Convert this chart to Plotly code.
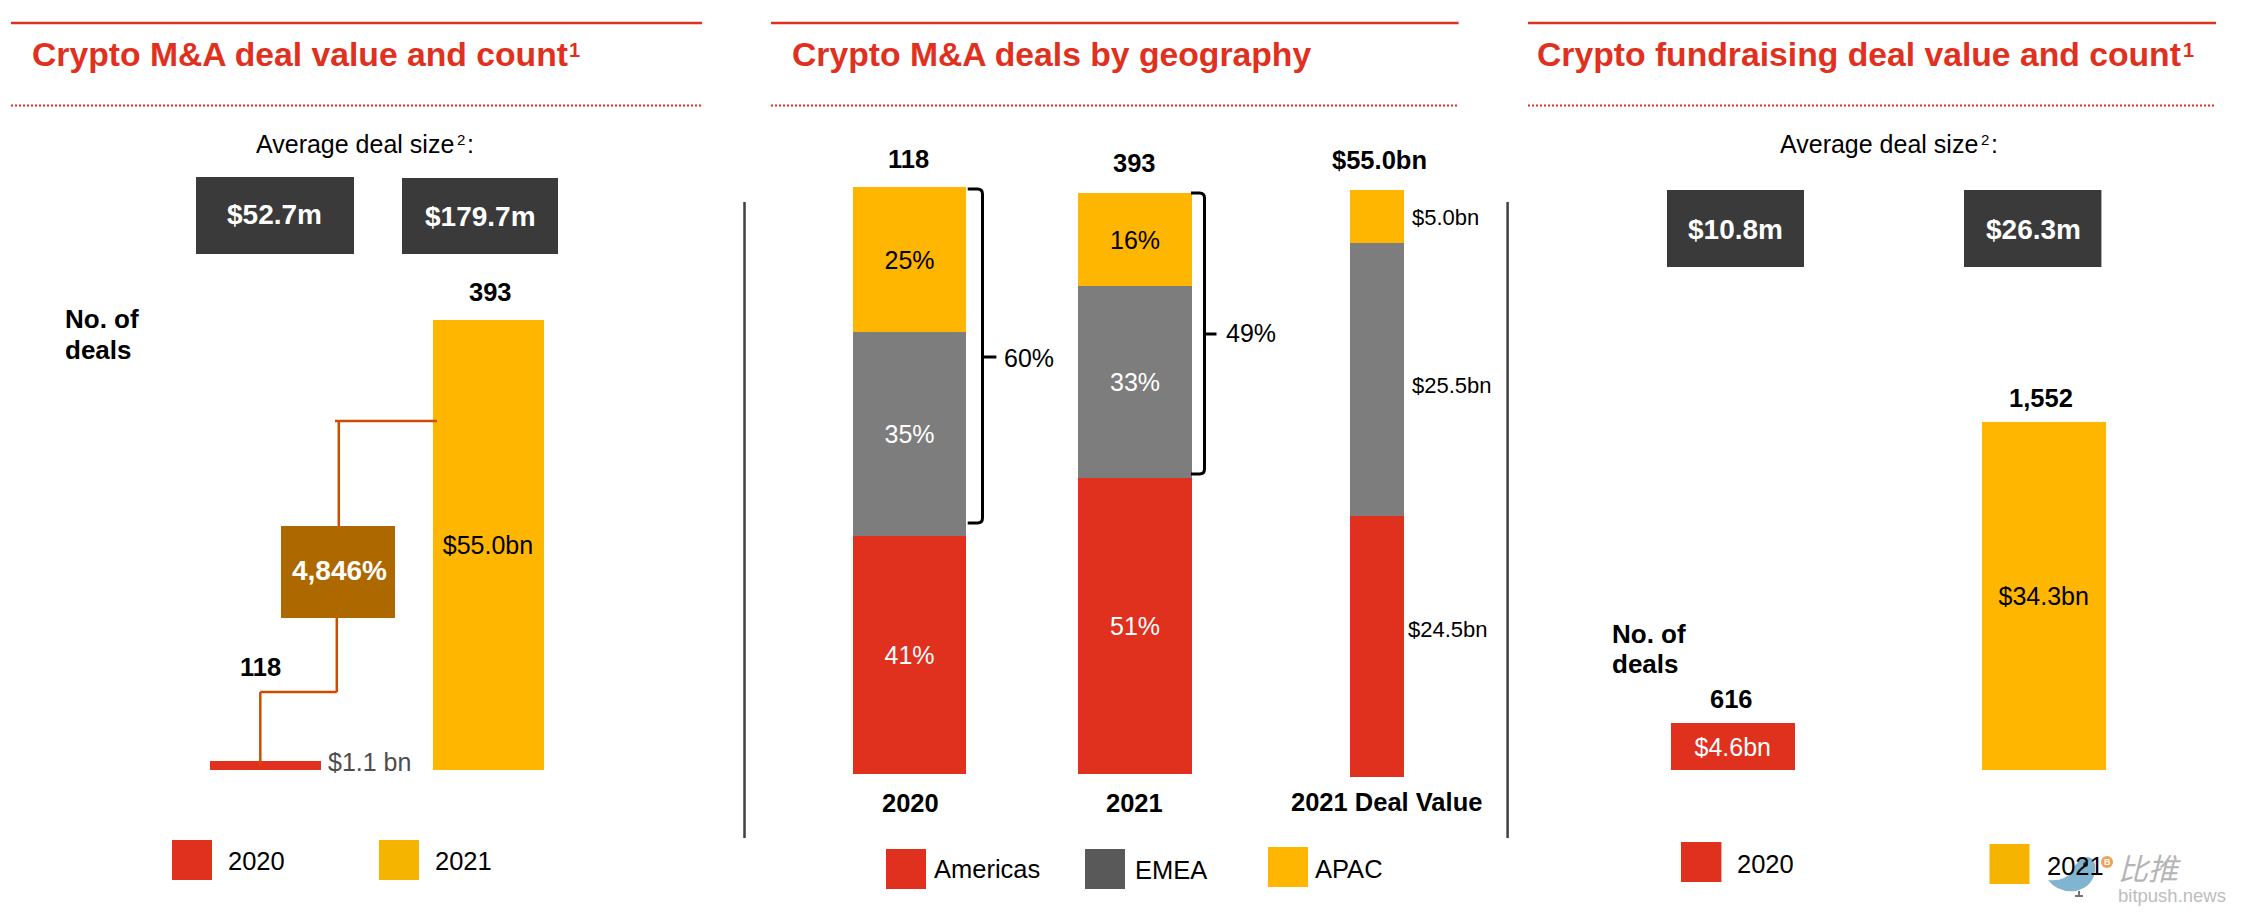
import plotly.graph_objects as go

W, H = 2246, 922
FONT = "Liberation Sans"
RED, GOLD, GREY = "#E0301E", "#FFB600", "#7D7D7D"
DARK, BROWN, ORANGE = "#3A3A3A", "#AD6800", "#D04A02"

# ---- data ----
ma_years = ["2020", "2021"]
ma_value_bn = [1.1, 55.0]
ma_value_labels = ["", "$55.0bn"]
ma_deal_counts = ["118", "393"]
ma_avg_size = ["$52.7m", "$179.7m"]
ma_growth = "4,846%"

geo_bars = ["2020", "2021", "2021 Deal Value"]
geo_regions = ["Americas", "EMEA", "APAC"]
geo_americas = [41, 51, 24.5]
geo_emea = [35, 33, 25.5]
geo_apac = [25, 16, 5.0]
geo_totals = ["118", "393", "$55.0bn"]
geo_pct_labels = {"Americas": ["41%", "51%"], "EMEA": ["35%", "33%"], "APAC": ["25%", "16%"]}
geo_value_labels = ["$24.5bn", "$25.5bn", "$5.0bn"]
geo_non_americas = ["60%", "49%"]

fund_years = ["2020", "2021"]
fund_value_bn = [4.6, 34.3]
fund_value_labels = ["$4.6bn", "$34.3bn"]
fund_deal_counts = ["616", "1,552"]
fund_avg_size = ["$10.8m", "$26.3m"]

panel_titles = ["Crypto M&A deal value and count",
                "Crypto M&A deals by geography",
                "Crypto fundraising deal value and count"]


def px(x):
    return x / W


def py(y):
    return 1 - y / H


fig = go.Figure()
layout_axes = {}


def axes(n, x0, x1, top, bottom, xr, yr):
    sfx = "" if n == 1 else str(n)
    layout_axes["xaxis" + sfx] = dict(domain=[px(x0), px(x1)], range=xr, visible=False,
                                      type="category", anchor="y" + sfx, fixedrange=True)
    layout_axes["yaxis" + sfx] = dict(domain=[py(bottom), py(top)], range=yr, visible=False,
                                      anchor="x" + sfx, fixedrange=True)
    return "x" + sfx, "y" + sfx


def bar(xa, ya, cats, vals, colors, texts, tcolors, width, name):
    kw = {}
    if any(texts):
        kw = dict(text=texts, textposition="inside", insidetextanchor="middle", textangle=0,
                  textfont=dict(family=FONT, size=25, color=tcolors))
    else:
        kw = dict(textposition="none")
    fig.add_trace(go.Bar(x=cats, y=vals, xaxis=xa, yaxis=ya, width=width, name=name,
                         marker=dict(color=colors, line=dict(width=0)),
                         cliponaxis=False, showlegend=False, **kw))


# Panel 1
xa, ya = axes(1, 153.5, 599.5, 320, 770, [-0.5, 1.5], [0, 55])
for i, col in enumerate([RED, GOLD]):
    bar(xa, ya, [ma_years[i]], [ma_value_bn[i]], [col], [ma_value_labels[i]], ["#000000"], [0.502], "M&A value")

# Panel 2
geo_axes = [axes(2, 853, 966, 187, 774, [-0.5, 0.5], [0, 101]),
            axes(3, 1078, 1192, 193, 774, [-0.5, 0.5], [0, 100]),
            axes(4, 1350, 1404, 190, 777, [-0.5, 0.5], [0, 55])]
geo_series = [("Americas", geo_americas, RED, "#FFFFFF"),
              ("EMEA", geo_emea, GREY, "#FFFFFF"),
              ("APAC", geo_apac, GOLD, "#000000")]
for i, (xa, ya) in enumerate(geo_axes):
    for name, vals, col, tcol in geo_series:
        label = geo_pct_labels[name][i] if i < 2 else ""
        bar(xa, ya, [geo_bars[i]], [vals[i]], [col], [label], [tcol], [1], name)

# Panel 3
xa, ya = axes(5, 1577.75, 2198.75, 422, 770, [-0.5, 1.5], [0, 34.3])
bar(xa, ya, fund_years, fund_value_bn, [RED, GOLD], fund_value_labels, ["#FFFFFF", "#000000"], [0.4] * 2, "Fundraising value")

shapes, notes = [], []


def rect(x0, y0, x1, y1, color):
    shapes.append(dict(type="rect", xref="paper", yref="paper", x0=px(x0), x1=px(x1), y0=py(y0), y1=py(y1),
                       fillcolor=color, line=dict(width=0), layer="above"))


def line(x0, y0, x1, y1, color, width=2.5, dash=None):
    shapes.append(dict(type="line", xref="paper", yref="paper", x0=px(x0), x1=px(x1), y0=py(y0), y1=py(y1),
                       line=dict(color=color, width=width, dash=dash), layer="above"))


def txt(x, y, s, size=25, bold=False, color="#000000", align="center", family=FONT):
    notes.append(dict(xref="paper", yref="paper", x=px(x), y=py(y), text=f"<b>{s}</b>" if bold else s,
                      showarrow=False, xanchor=align, yanchor="middle", borderpad=0, borderwidth=0,
                      font=dict(family=family, size=size, color=color)))


# Headers
for (x0, x1, tx), title in zip([(11, 702, 31.6), (771, 1458.6, 792), (1528, 2216, 1537)], panel_titles):
    line(x0, 23, x1, 23, RED, 2.5)
    line(x0, 105.5, x1, 105.5, RED, 2, "2px,2px")
    txt(tx, 54, title, 33.7, True, RED, "left")
txt(574, 49.5, "1", 20, True, RED)
txt(2188, 49.5, "1", 20, True, RED)

# Dividers
line(744.5, 202, 744.5, 838, "#404040", 2.5)
line(1507.6, 202, 1507.6, 838, "#404040", 2.5)

# Panel 1 annotations
txt(256, 144, "Average deal size", 25, align="left")
txt(461, 140, "2", 15)
txt(470, 144, ":", 25)
rect(196, 177, 354, 254, DARK)
rect(402, 178, 558, 254, DARK)
txt(274.6, 215, ma_avg_size[0], 28, True, "#FFFFFF")
txt(480, 216, ma_avg_size[1], 28, True, "#FFFFFF")
txt(260.8, 667, ma_deal_counts[0], 25.5, True)
txt(490.4, 292, ma_deal_counts[1], 25.5, True)
txt(65, 319, "No. of", 26, True, align="left")
txt(65, 350, "deals", 26, True, align="left")
txt(327.7, 762, "$1.1 bn", 25, color="#4D4D4D", align="left")
# connector
line(335, 421, 437, 421, ORANGE)
line(338.8, 421, 338.8, 526, ORANGE)
line(336.8, 618, 336.8, 692, ORANGE)
line(336.8, 692, 260.3, 692, ORANGE)
line(260.3, 692, 260.3, 766, ORANGE)
rect(281, 526, 395, 618, BROWN)
txt(339.7, 570, ma_growth, 28, True, "#FFFFFF")
# legend
rect(172, 840, 212, 880, RED)
txt(228, 861, ma_years[0], 25.5, align="left")
rect(379, 840, 419, 880, "#F5B400")
txt(435.4, 861, ma_years[1], 25.5, align="left")

# Panel 2 annotations
for x, y, s in zip([908.4, 1134, 1379], [159, 163, 160], geo_totals):
    txt(x, y, s, 25.5, True)
for x, y, s in zip([910, 1134, 1386.4], [803, 803, 802], geo_bars):
    txt(x, y, s, 25.5, True)
for x, y, s in zip([1408, 1411.7, 1411.7], [629, 385, 217], geo_value_labels):
    txt(x, y, s, 22, align="left")


def brace(x0, xv, xt, y0, y1, ym):
    r = 5
    path = (f"M {px(x0)} {py(y0)} L {px(xv - r)} {py(y0)} Q {px(xv)} {py(y0)} {px(xv)} {py(y0 + r)} "
            f"L {px(xv)} {py(y1 - r)} Q {px(xv)} {py(y1)} {px(xv - r)} {py(y1)} L {px(x0)} {py(y1)}")
    shapes.append(dict(type="path", xref="paper", yref="paper", path=path, layer="above",
                       line=dict(color="#000000", width=3)))
    line(xv, ym, xt, ym, "#000000", 3)


brace(967.7, 982.5, 996.4, 189, 523, 357)
brace(1191, 1204.5, 1216.5, 193, 474, 334)
txt(1029.4, 358, geo_non_americas[0], 25)
txt(1251, 333, geo_non_americas[1], 25)
rect(886, 849, 926, 889, RED)
txt(934, 869, geo_regions[0], 25.5, align="left")
rect(1085, 849, 1125, 889, "#595959")
txt(1135, 870, geo_regions[1], 25.5, align="left")
rect(1268, 847, 1308, 887, GOLD)
txt(1314.6, 869, geo_regions[2], 25.5, align="left")

# Panel 3 annotations
txt(1779.5, 144, "Average deal size", 25, align="left")
txt(1985, 140, "2", 15)
txt(1995, 144, ":", 25)
rect(1667, 190, 1804, 267, DARK)
rect(1964, 190, 2101.4, 267, DARK)
txt(1735.7, 229, fund_avg_size[0], 28, True, "#FFFFFF")
txt(2033.8, 229, fund_avg_size[1], 28, True, "#FFFFFF")
txt(1731, 699, fund_deal_counts[0], 25.5, True)
txt(2041.4, 398, fund_deal_counts[1], 25.5, True)
txt(1612, 634, "No. of", 26, True, align="left")
txt(1612, 664, "deals", 26, True, align="left")
rect(1681, 842, 1721.4, 882, RED)
txt(1737, 864, fund_years[0], 25.5, align="left")
rect(1989.5, 844, 2029.5, 884, "#F5B400")

# Watermark (bitpush.news bird behind the legend label)
bird = [(2048, 880), (2064, 882), (2071, 872), (2078, 858), (2088, 857), (2096, 858), (2095, 870),
        (2094, 886), (2076, 891), (2058, 893), (2048, 880)]
p = f"M {px(bird[0][0])} {py(bird[0][1])} "
for k in range(1, len(bird), 2):
    p += f"Q {px(bird[k][0])} {py(bird[k][1])} {px(bird[k + 1][0])} {py(bird[k + 1][1])} "
shapes.append(dict(type="path", xref="paper", yref="paper", path=p + "Z", fillcolor="#7FB5D1",
                   line=dict(width=0), layer="above"))
line(2079, 891, 2079, 895, "#444444", 1.5)
line(2075, 896, 2083, 896, "#444444", 1.5)
shapes.append(dict(type="circle", xref="paper", yref="paper", x0=px(2083), x1=px(2088), y0=py(862), y1=py(867),
                   fillcolor="#333333", line=dict(width=0), layer="above"))
shapes.append(dict(type="circle", xref="paper", yref="paper", x0=px(2101), x1=px(2113), y0=py(856), y1=py(868),
                   fillcolor="#EFA24F", line=dict(width=0), layer="above"))
txt(2107, 862, "B", 9, True, "#FFFFFF")
txt(2047, 866, fund_years[1], 25.5, align="left")
txt(2149, 867, "<i>比推</i>", 30, color="#B5B5B5", family="Noto Sans CJK SC")
txt(2172, 895, "bitpush.news", 18.5, color="#BDBDBD")

fig.update_layout(width=W, height=H, margin=dict(l=0, r=0, t=0, b=0), autosize=False,
                  paper_bgcolor="#FFFFFF", plot_bgcolor="#FFFFFF", barmode="stack", bargap=0,
                  showlegend=False, shapes=shapes, annotations=notes, **layout_axes)
fig.write_html("out.html", config={"displayModeBar": False},
               post_script="document.body.style.margin='0';")
